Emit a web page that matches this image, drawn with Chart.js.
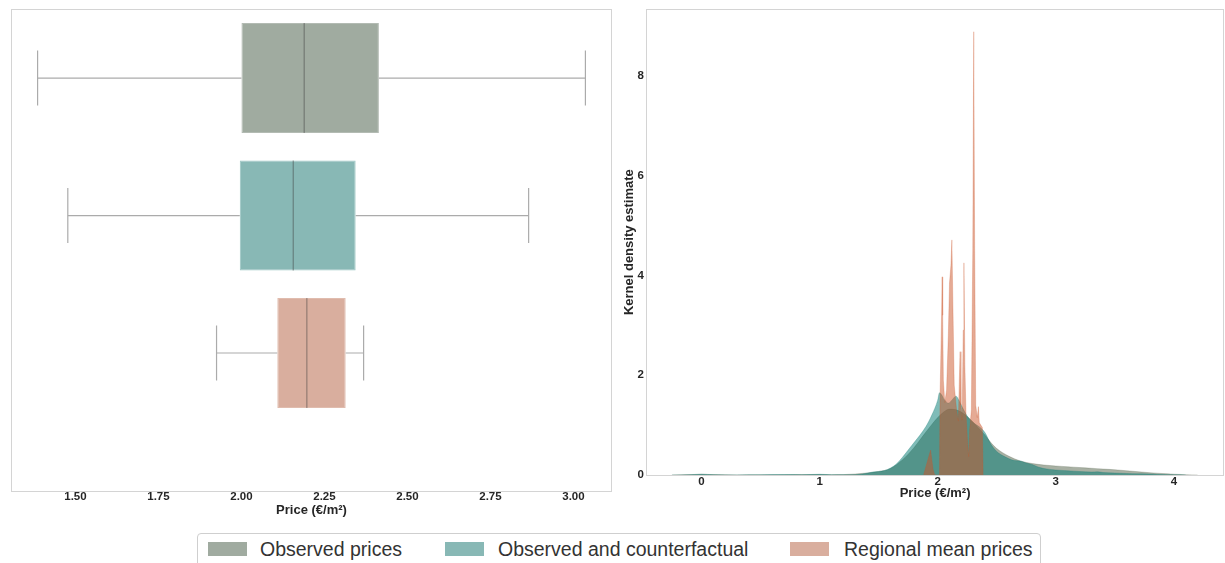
<!DOCTYPE html>
<html><head><meta charset="utf-8">
<script src="https://cdn.jsdelivr.net/npm/chart.js@4.4.1/dist/chart.umd.min.js"></script>
<style>
html,body{margin:0;padding:0;background:#fff;width:1225px;height:563px;overflow:hidden;font-family:"Liberation Sans",Arial,sans-serif;}
#leftWrap{position:absolute;left:0;top:0;width:625px;height:525px;}
#rightWrap{position:absolute;left:615px;top:0;width:610px;height:525px;}
#legend{position:absolute;left:197px;top:533px;width:844px;height:40px;border:1px solid #cfcfcf;border-radius:4px;background:#fff;box-sizing:border-box;}
.sw{position:absolute;top:8px;width:39px;height:14px;}
.lt{position:absolute;top:3px;font-size:19.5px;color:#333;line-height:24px;white-space:nowrap;}
</style></head>
<body>
<div id="leftWrap"><canvas id="left"></canvas></div>
<div id="rightWrap"><canvas id="right"></canvas></div>
<div id="legend"></div>
<script>
// ---------- data ----------
const seriesNames = ['Observed prices', 'Observed and counterfactual', 'Regional mean prices'];
const boxColors = ['#a0aba0', '#88b8b5', '#d9ae9e'];
const kdeColors = ['rgba(81,97,71,0.5)', 'rgba(0,121,113,0.5)', 'rgba(203,85,41,0.5)'];

// box plot statistics (Price €/m²)
const boxRows = [0, 1, 2];
const boxQ1 = [2.000, 1.995, 2.108];
const boxMedian = [2.189, 2.156, 2.197];
const boxQ3 = [2.414, 2.344, 2.314];
const whiskerLow = [1.386, 1.477, 1.925];
const whiskerHigh = [3.036, 2.865, 2.368];
const boxTicks = [1.50, 1.75, 2.00, 2.25, 2.50, 2.75, 3.00];

// kernel density estimates
const kdeObservedX = [-0.25,-0.1,0,0.1,0.3,0.5,0.7,0.9,1.0,1.1,1.2,1.3,1.4,1.5,1.6,1.7,1.8,1.9,2.0,2.05,2.1,2.15,2.2,2.25,2.3,2.35,2.4,2.45,2.5,2.6,2.7,2.8,2.9,3.0,3.1,3.2,3.3,3.4,3.5,3.6,3.7,3.8,3.9,4.0,4.1,4.2];
const kdeObservedY = [0,0.008,0.015,0.008,0.002,0.003,0.006,0.008,0.01,0.006,0.008,0.02,0.04,0.07,0.13,0.3,0.55,0.86,1.15,1.26,1.32,1.31,1.26,1.17,1.06,0.93,0.8,0.65,0.53,0.38,0.28,0.23,0.2,0.18,0.165,0.15,0.135,0.12,0.105,0.085,0.065,0.045,0.03,0.016,0.006,0];

const kdeCounterX = [-0.25,-0.1,0,0.1,0.3,0.5,0.7,0.85,1.0,1.1,1.25,1.35,1.45,1.55,1.6,1.65,1.7,1.75,1.8,1.85,1.9,1.95,2.0,2.015,2.03,2.06,2.09,2.12,2.155,2.18,2.2,2.25,2.3,2.35,2.4,2.45,2.5,2.55,2.6,2.65,2.7,2.75,2.8,2.85,2.9,3.0,3.1,3.2,3.3,3.35,3.4,3.5,3.6,3.7,3.8,3.9,4.0,4.1];
const kdeCounterY = [0,0.004,0.015,0.006,0.001,0.003,0.008,0.005,0.015,0.005,0.003,0.015,0.06,0.09,0.14,0.22,0.35,0.5,0.65,0.8,0.97,1.2,1.5,1.65,1.62,1.5,1.44,1.5,1.58,1.5,1.4,1.18,1.05,0.97,0.85,0.62,0.47,0.39,0.33,0.29,0.28,0.24,0.21,0.16,0.13,0.1,0.085,0.07,0.06,0.065,0.05,0.04,0.03,0.025,0.02,0.01,0.005,0];

const kdeRegionalX = [1.88,1.91,1.94,1.96,1.975,2.015,2.02,2.03,2.038,2.042,2.048,2.06,2.075,2.09,2.1,2.112,2.12,2.128,2.14,2.16,2.175,2.183,2.19,2.197,2.207,2.216,2.222,2.23,2.24,2.255,2.262,2.27,2.285,2.297,2.305,2.313,2.322,2.335,2.345,2.352,2.365,2.378,2.385];
const kdeRegionalY = [0,0.25,0.5,0.12,0,0,1.6,2.8,3.97,3.2,1.9,1.45,1.7,2.8,3.85,4.2,4.71,3.5,1.8,1.3,1.08,1.9,2.47,1.4,1.1,2.9,4.25,2.2,1.2,0.6,0.37,0.9,1.3,4.5,8.88,4.5,1.4,1.15,1.37,1.05,1.0,0.95,0];

const kdeTicksX = [0, 1, 2, 3, 4];
const kdeTicksY = [0, 2, 4, 6, 8];

// ---------- common ----------
const FONT = '"Liberation Sans", Arial, sans-serif';
const tickFont = {family: FONT, size: 11.5, weight: 'bold', lineHeight: 1};
const titleFont = {family: FONT, size: 13, weight: 'bold', lineHeight: 1.2};
const TXT = '#262626';

const framePlugin = {
  id: 'frame',
  beforeDatasetsDraw(chart) {
    const a = chart.chartArea, ctx = chart.ctx;
    ctx.save();
    ctx.strokeStyle = '#d4d4d4';
    ctx.lineWidth = 1;
    ctx.strokeRect(Math.round(a.left) + 0.5, Math.round(a.top) + 0.5,
      Math.round(a.right) - Math.round(a.left) - 1, Math.round(a.bottom) - Math.round(a.top));
    ctx.restore();
  }
};

// ---------- left: box plot ----------
const boxDatasets = [{
  type: 'bar',
  indexAxis: 'y',
  data: boxQ1.map((q, i) => ({x: [q, boxQ3[i]], y: boxRows[i]})),
  backgroundColor: boxColors,
  borderColor: ['#b3bbb3', '#9cc6c3', '#e0bcae'],
  borderWidth: 1,
  borderSkipped: false,
  barPercentage: 0.8,
  categoryPercentage: 1.0,
  order: 10
}];
function seg(pts, color) {
  boxDatasets.push({
    type: 'line', data: pts, borderColor: color, borderWidth: 1.2,
    pointRadius: 0, fill: false, tension: 0, order: 1
  });
}
for (let i = 0; i < boxQ1.length; i++) {
  const wc = '#ababab', r = boxRows[i];
  seg([{x: whiskerLow[i], y: r}, {x: boxQ1[i], y: r}], wc);
  seg([{x: boxQ3[i], y: r}, {x: whiskerHigh[i], y: r}], wc);
  seg([{x: whiskerLow[i], y: r - 0.2}, {x: whiskerLow[i], y: r + 0.2}], wc);
  seg([{x: whiskerHigh[i], y: r - 0.2}, {x: whiskerHigh[i], y: r + 0.2}], wc);
  seg([{x: boxMedian[i], y: r - 0.4}, {x: boxMedian[i], y: r + 0.4}], 'rgba(60,60,60,0.45)');
}

new Chart(document.getElementById('left'), {
  data: {datasets: boxDatasets},
  options: {
    responsive: true, maintainAspectRatio: false, animation: false,
    layout: {padding: {left: 10.7, right: 12.7, top: 9.3, bottom: 6.5}},
    plugins: {legend: {display: false}, tooltip: {enabled: false}},
    scales: {
      x: {
        type: 'linear', position: 'bottom', min: 1.305, max: 3.117, offset: false,
        afterBuildTicks: s => { s.ticks = boxTicks.map(v => ({value: v})); },
        afterFit: s => { s.height = 28; },
        grid: {display: false, drawTicks: false, offset: false},
        border: {display: false},
        ticks: {font: tickFont, color: TXT, padding: 1, callback: v => v.toFixed(2), maxRotation: 0},
        title: {display: true, text: 'Price (€/m²)', font: titleFont, color: TXT, padding: {top: 0, bottom: 0}}
      },
      y: {
        type: 'linear', min: -0.5, max: 3.0, reverse: true, display: false, offset: false,
        grid: {offset: false},
        afterBuildTicks: s => { s.ticks = boxRows.map(v => ({value: v})); }
      }
    }
  },
  plugins: [framePlugin]
});

// ---------- right: KDE ----------
function kdeSet(xs, ys, k, smooth, order) {
  return {
    type: 'line',
    label: seriesNames[k],
    data: xs.map((x, i) => ({x: x, y: ys[i]})),
    backgroundColor: kdeColors[k],
    borderColor: kdeColors[k],
    borderWidth: 0.5,
    pointRadius: 0,
    fill: 'origin',
    tension: smooth ? 0.4 : 0,
    cubicInterpolationMode: smooth ? 'monotone' : 'default',
    order: order
  };
}

new Chart(document.getElementById('right'), {
  data: {datasets: [
    kdeSet(kdeObservedX, kdeObservedY, 0, true, 3),
    kdeSet(kdeCounterX, kdeCounterY, 1, true, 2),
    kdeSet(kdeRegionalX, kdeRegionalY, 2, false, 1)
  ]},
  options: {
    responsive: true, maintainAspectRatio: false, animation: false,
    layout: {padding: {left: 7, right: 1, top: 9.3, bottom: 23.9}},
    plugins: {legend: {display: false}, tooltip: {enabled: false}},
    scales: {
      x: {
        type: 'linear', min: -0.468, max: 4.424,
        afterBuildTicks: s => { s.ticks = kdeTicksX.map(v => ({value: v})); },
        afterFit: s => { s.height = 26.1; },
        grid: {display: false, drawTicks: false},
        border: {display: false},
        ticks: {font: tickFont, color: TXT, padding: 1, maxRotation: 0},
        title: {display: true, text: 'Price (€/m²)', font: titleFont, color: TXT, padding: {top: 0, bottom: 0}}
      },
      y: {
        type: 'linear', min: 0, max: 9.33,
        afterBuildTicks: s => { s.ticks = kdeTicksY.map(v => ({value: v})); },
        afterFit: s => { s.width = 24.2; },
        grid: {display: false, drawTicks: false},
        border: {display: false},
        ticks: {font: tickFont, color: TXT, padding: 2.2},
        title: {display: true, text: 'Kernel density estimate', font: titleFont, color: TXT, padding: {top: 0, bottom: 0}}
      }
    }
  },
  plugins: [framePlugin]
});

// ---------- legend ----------
const legend = document.getElementById('legend');
const swLeft = [9.5, 247, 592];
const txtLeft = [62, 300, 646];
seriesNames.forEach((name, i) => {
  const sw = document.createElement('div');
  sw.className = 'sw';
  sw.style.left = swLeft[i] + 'px';
  sw.style.background = boxColors[i];
  legend.appendChild(sw);
  const t = document.createElement('div');
  t.className = 'lt';
  t.style.left = txtLeft[i] + 'px';
  t.textContent = name;
  legend.appendChild(t);
});
</script>
</body></html>
